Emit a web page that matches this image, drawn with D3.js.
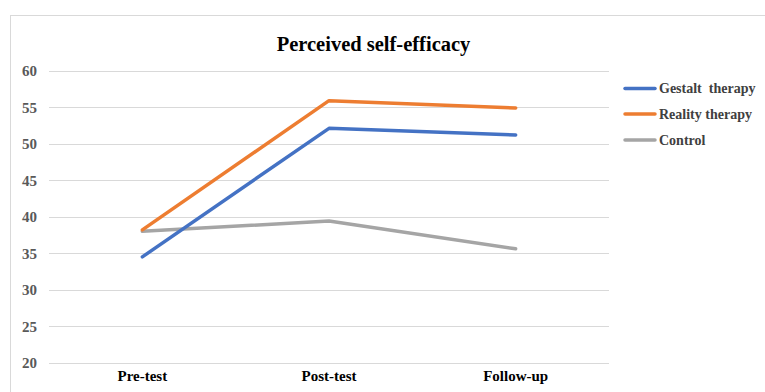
<!DOCTYPE html>
<html><head><meta charset="utf-8">
<script src="https://cdn.jsdelivr.net/npm/d3@7"></script>
<style>body{margin:0;background:#fff}svg{display:block}text{font-family:"Liberation Serif","Times New Roman",Times,serif}</style>
</head><body>
<script>
const categories = ["Pre-test", "Post-test", "Follow-up"];
const gestalt = [34.5, 52.1, 51.2];
const reality = [38.2, 55.9, 54.9];
const control = [38.0, 39.4, 35.6];
const seriesNames = ["Gestalt  therapy", "Reality therapy", "Control"];
const seriesColors = ["#4472C4", "#ED7D31", "#A5A5A5"];
const yTicks = [20, 25, 30, 35, 40, 45, 50, 55, 60];

const W = 765, H = 392;
const svg = d3.select("body").append("svg").attr("width", W).attr("height", H);

svg.append("rect").attr("x", 10.5).attr("y", 15.5).attr("width", 770).attr("height", 400)
  .attr("fill", "#fff").attr("stroke", "#d9d9d9");

const x = d3.scaleBand().domain(categories).range([49, 609]);
const y = d3.scaleLinear().domain([20, 60]).range([362.7, 70.7]);

const grid = svg.append("g");
grid.selectAll("line").data(yTicks).join("line")
  .attr("x1", 49).attr("x2", 609)
  .attr("y1", d => Math.round(y(d)) + 0.5).attr("y2", d => Math.round(y(d)) + 0.5)
  .attr("stroke", "#d9d9d9").attr("stroke-width", 1);

const yAxis = svg.append("g").attr("transform", "translate(49,0)")
  .call(d3.axisLeft(y).tickValues(yTicks).tickSize(0).tickPadding(12));
yAxis.select(".domain").remove();
yAxis.attr("font-family", null);
yAxis.selectAll("text").attr("font-weight", "bold")
  .attr("font-size", 15).attr("fill", "#595959");

const xAxis = svg.append("g").attr("transform", "translate(0,362.7)")
  .call(d3.axisBottom(x).tickSize(0).tickPadding(8));
xAxis.select(".domain").remove();
xAxis.attr("font-family", null);
xAxis.selectAll("text").attr("font-weight", "bold")
  .attr("font-size", 15).attr("fill", "#000");

const data = [gestalt, reality, control];
const line = d3.line().x((d, i) => x(categories[i]) + x.bandwidth() / 2).y(d => y(d));
svg.append("g").selectAll("path").data(data.slice().reverse()).join("path")
  .attr("d", d => line(d)).attr("fill", "none")
  .attr("stroke", (d, i) => seriesColors[2 - i]).attr("stroke-width", 3.5)
  .attr("stroke-linejoin", "round").attr("stroke-linecap", "round");

svg.append("text").attr("x", 373.5).attr("y", 51).attr("text-anchor", "middle")
  .attr("font-weight", "bold").attr("font-size", 20.5)
  .attr("fill", "#000").text("Perceived self-efficacy");

const leg = svg.append("g");
const legY = [88.5, 114, 140];
seriesNames.forEach((n, i) => {
  leg.append("line").attr("x1", 625).attr("x2", 655).attr("y1", legY[i]).attr("y2", legY[i])
    .attr("stroke", seriesColors[i]).attr("stroke-width", 3.5).attr("stroke-linecap", "round");
  leg.append("text").attr("x", 659).attr("y", legY[i] + 4.5)
    .attr("font-weight", "bold").attr("font-size", 14)
    .attr("fill", "#404040").style("white-space", "pre").text(n);
});
</script>
</body></html>
